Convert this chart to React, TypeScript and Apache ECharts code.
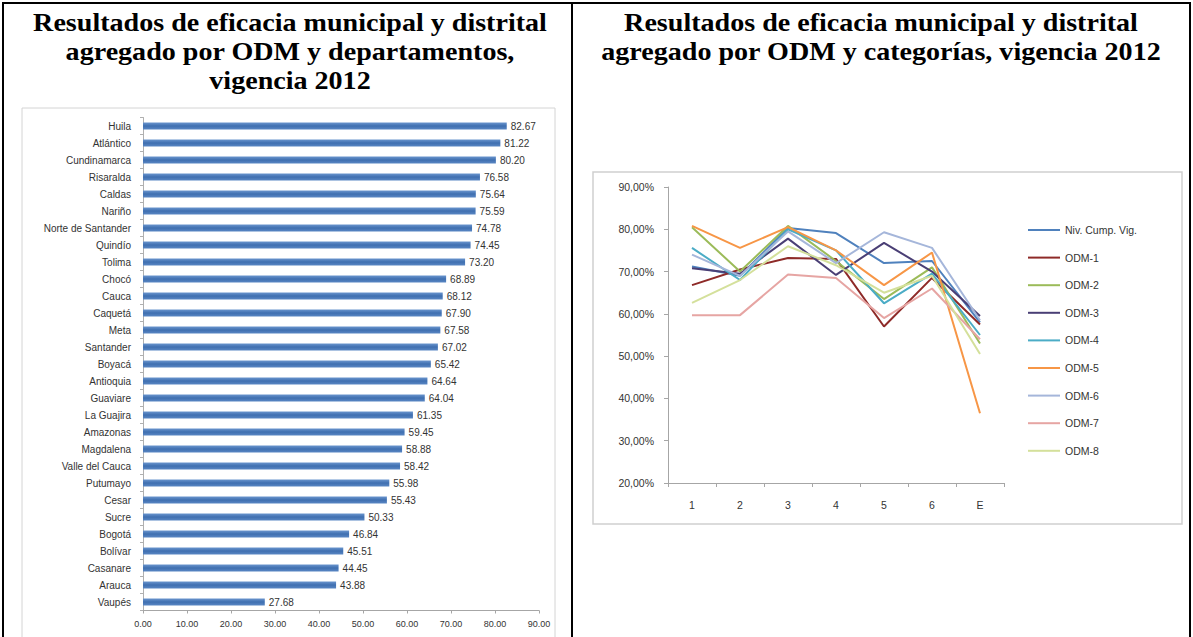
import React, { useEffect, useRef } from 'react';
import * as echarts from 'echarts';

const departamentos = [
  'Huila', 'Atlántico', 'Cundinamarca', 'Risaralda', 'Caldas', 'Nariño',
  'Norte de Santander', 'Quindío', 'Tolima', 'Chocó', 'Cauca', 'Caquetá',
  'Meta', 'Santander', 'Boyacá', 'Antioquia', 'Guaviare', 'La Guajira',
  'Amazonas', 'Magdalena', 'Valle del Cauca', 'Putumayo', 'Cesar', 'Sucre',
  'Bogotá', 'Bolívar', 'Casanare', 'Arauca', 'Vaupés',
];
const eficacia = [
  82.67, 81.22, 80.2, 76.58, 75.64, 75.59, 74.78, 74.45, 73.2, 68.89, 68.12,
  67.9, 67.58, 67.02, 65.42, 64.64, 64.04, 61.35, 59.45, 58.88, 58.42, 55.98,
  55.43, 50.33, 46.84, 45.51, 44.45, 43.88, 27.68,
];
const xTicks = [0, 10, 20, 30, 40, 50, 60, 70, 80, 90];

const categorias = ['1', '2', '3', '4', '5', '6', 'E'];
const nombresSeries = ['Niv. Cump. Vig.', 'ODM-1', 'ODM-2', 'ODM-3', 'ODM-4', 'ODM-5', 'ODM-6', 'ODM-7', 'ODM-8'];
const nivCump = [71.2, 69.0, 80.3, 79.1, 72.0, 72.5, 58.0];
const odm1 = [66.8, 70.5, 73.2, 73.0, 57.0, 68.5, 57.5];
const odm2 = [80.5, 70.0, 80.8, 72.5, 63.5, 71.0, 53.0];
const odm3 = [70.8, 69.5, 77.8, 69.2, 76.8, 70.0, 59.5];
const odm4 = [75.6, 68.0, 80.0, 75.0, 62.5, 69.5, 55.0];
const odm5 = [80.8, 75.6, 80.5, 75.0, 66.8, 74.5, 36.5];
const odm6 = [74.0, 69.0, 79.5, 72.0, 79.3, 75.6, 58.5];
const odm7 = [59.7, 59.7, 69.3, 68.5, 59.0, 66.0, 54.0];
const odm8 = [62.6, 68.0, 76.0, 71.5, 65.0, 69.0, 50.5];
const valoresSeries = [nivCump, odm1, odm2, odm3, odm4, odm5, odm6, odm7, odm8];
const coloresSeries = ['#4F81BD', '#8E2A28', '#9BBB59', '#4A3F75', '#4BACC6', '#F79646', '#A5B6DA', '#E6A5A3', '#D4E09B'];
const yTicks = [20, 30, 40, 50, 60, 70, 80, 90];

const titleFont = 'bold 26px "Liberation Serif", "DejaVu Serif", serif';

export default function App() {
  const ref = useRef<HTMLDivElement>(null);
  useEffect(() => {
    const chart = echarts.init(ref.current!, null, { renderer: 'svg' });
    const option: any = {
      animation: false,
      backgroundColor: '#ffffff',
      graphic: [
        { type: 'rect', silent: true, shape: { x: 22, y: 108, width: 533, height: 560 }, style: { fill: 'none', stroke: '#d4d4d4', lineWidth: 1 } },
        { type: 'rect', silent: true, shape: { x: 593, y: 172, width: 589, height: 352 }, style: { fill: 'none', stroke: '#cfcfcf', lineWidth: 1.5 } },
        { type: 'line', silent: true, shape: { x1: 2, y1: 3, x2: 1191, y2: 3 }, style: { stroke: '#000', lineWidth: 2 } },
        { type: 'line', silent: true, shape: { x1: 3, y1: 2, x2: 3, y2: 637 }, style: { stroke: '#000', lineWidth: 2 } },
        { type: 'line', silent: true, shape: { x1: 572, y1: 2, x2: 572, y2: 637 }, style: { stroke: '#000', lineWidth: 2 } },
        { type: 'line', silent: true, shape: { x1: 1190, y1: 2, x2: 1190, y2: 637 }, style: { stroke: '#000', lineWidth: 2 } },
        {
          type: 'text', x: 290, y: 8, scaleX: 1.08,
          style: { text: 'Resultados de eficacia municipal y distrital\nagregado por ODM y departamentos,\nvigencia 2012', font: titleFont, lineHeight: 29, textAlign: 'center', fill: '#000' },
        },
        {
          type: 'text', x: 881, y: 8, scaleX: 1.08,
          style: { text: 'Resultados de eficacia municipal y distrital\nagregado por ODM y categorías, vigencia 2012', font: titleFont, lineHeight: 29, textAlign: 'center', fill: '#000' },
        },
      ],
      grid: [
        { left: 143, top: 117.5, width: 396, height: 493 },
        { left: 668, top: 187, width: 336, height: 296 },
      ],
      xAxis: [
        {
          gridIndex: 0, type: 'value', min: xTicks[0], max: xTicks[xTicks.length - 1], interval: 10,
          axisLabel: { formatter: (v: number) => v.toFixed(2), fontSize: 9, color: '#333', margin: 9, fontFamily: 'Liberation Sans' },
          axisLine: { show: true, lineStyle: { color: '#a6a6a6' } },
          axisTick: { show: true, length: 3, lineStyle: { color: '#a6a6a6' } },
          splitLine: { show: false },
        },
        {
          gridIndex: 1, type: 'category', data: categorias, boundaryGap: true,
          axisLabel: { fontSize: 10.5, color: '#333', margin: 16, fontFamily: 'Liberation Sans' },
          axisLine: { show: true, lineStyle: { color: '#a6a6a6' } },
          axisTick: { show: true, length: 4, lineStyle: { color: '#a6a6a6' } },
          splitLine: { show: false },
        },
      ],
      yAxis: [
        {
          gridIndex: 0, type: 'category', data: departamentos, inverse: true,
          axisLabel: { fontSize: 10, color: '#333', margin: 12, fontFamily: 'Liberation Sans' },
          axisLine: { show: true, lineStyle: { color: '#b0b0b0' } },
          axisTick: { show: true, length: 3, lineStyle: { color: '#b0b0b0' } },
        },
        {
          gridIndex: 1, type: 'value', min: yTicks[0], max: yTicks[yTicks.length - 1], interval: 10,
          axisLabel: { formatter: (v: number) => v.toFixed(2).replace('.', ',') + '%', fontSize: 10.5, color: '#333', margin: 14, fontFamily: 'Liberation Sans' },
          axisLine: { show: true, lineStyle: { color: '#a6a6a6' } },
          axisTick: { show: true, length: 4, lineStyle: { color: '#a6a6a6' } },
          splitLine: { show: false },
        },
      ],
      legend: {
        orient: 'vertical', left: 1028, top: 223, padding: 0,
        icon: 'rect',
        itemWidth: 32, itemHeight: 2, itemGap: 13.6, itemTextGap: 4,
        data: nombresSeries,
        textStyle: { fontSize: 10.5, lineHeight: 14, color: '#333', fontFamily: 'Liberation Sans' },
      },
      series: [
        {
          type: 'bar', xAxisIndex: 0, yAxisIndex: 0, data: eficacia, barWidth: 7,
          itemStyle: {
            color: new echarts.graphic.LinearGradient(0, 0, 0, 1, [
              { offset: 0, color: '#6A95CE' },
              { offset: 0.5, color: '#3F6FB0' },
              { offset: 1, color: '#5A87C4' },
            ]),
          },
          label: { show: true, position: 'right', distance: 4, formatter: (p: any) => p.value.toFixed(2), fontSize: 10, color: '#333', fontFamily: 'Liberation Sans' },
        },
        ...nombresSeries.map((name, i) => ({
          type: 'line', name, xAxisIndex: 1, yAxisIndex: 1, data: valoresSeries[i],
          symbol: 'none', showSymbol: false,
          color: coloresSeries[i],
          itemStyle: { color: coloresSeries[i] },
          lineStyle: { width: 2, color: coloresSeries[i] },
        })),
      ],
    };
    chart.setOption(option);
    return () => chart.dispose();
  }, []);
  return <div ref={ref} style={{ position: 'fixed', left: 0, top: 0, width: 1193, height: 637, background: '#fff' }} />;
}
